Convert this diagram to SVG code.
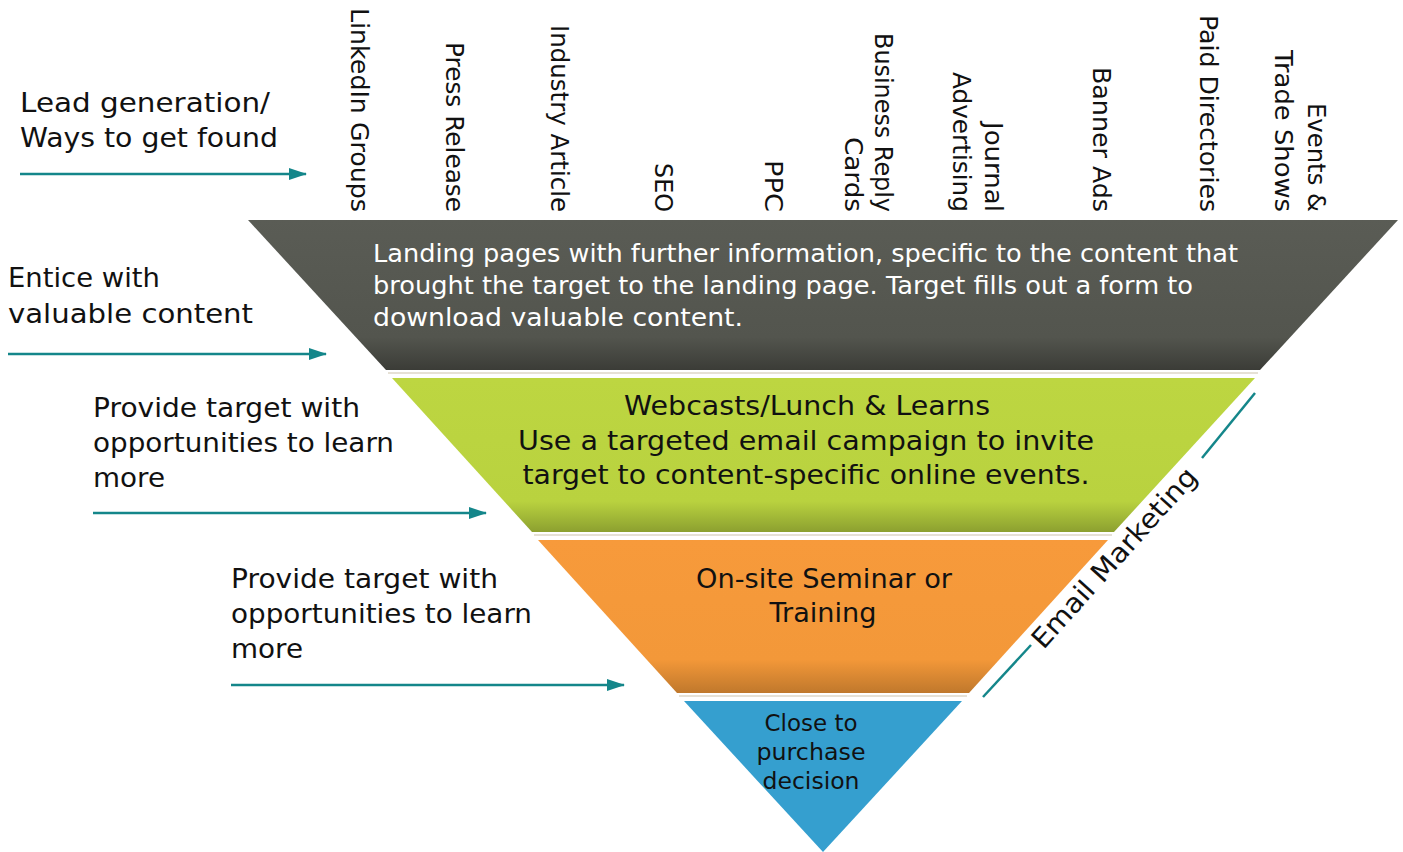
<svg xmlns="http://www.w3.org/2000/svg" width="1403" height="852" viewBox="0 0 1403 852">
  <defs>
    <style>
      text { font-family: "DejaVu Sans", "Liberation Sans", sans-serif; }
      .lbl { font-size: 27px; fill: #111; }
      .ch { font-size: 24px; fill: #111; }
      .band-dark { font-size: 24px; fill: #ffffff; }
      .band-txt { font-size: 27px; fill: #111; text-anchor: middle; }
      .blue-txt { font-size: 23px; fill: #111; text-anchor: middle; }
      .arrow { stroke: #14868a; stroke-width: 2.5; fill: none; marker-end: url(#head); }
      .rule { stroke: #14868a; stroke-width: 2.5; fill: none; }
      .sep { stroke: #e6e1d6; stroke-width: 2; fill: none; }
    </style>
    <marker id="head" viewBox="0 0 18 12" refX="17" refY="6" markerWidth="18" markerHeight="12" markerUnits="userSpaceOnUse" orient="auto">
      <path d="M0,0 L18,6 L0,12 z" fill="#14868a"/>
    </marker>
    <linearGradient id="gDark" x1="0" y1="0" x2="0" y2="1">
      <stop offset="0" stop-color="#5a5c55"/>
      <stop offset="0.78" stop-color="#53554e"/>
      <stop offset="1" stop-color="#3b3c37"/>
    </linearGradient>
    <linearGradient id="gGreen" x1="0" y1="0" x2="0" y2="1">
      <stop offset="0" stop-color="#bdd641"/>
      <stop offset="0.8" stop-color="#b9d23f"/>
      <stop offset="1" stop-color="#8ca030"/>
    </linearGradient>
    <linearGradient id="gOrange" x1="0" y1="0" x2="0" y2="1">
      <stop offset="0" stop-color="#f79a3b"/>
      <stop offset="0.78" stop-color="#f39839"/>
      <stop offset="1" stop-color="#c0782c"/>
    </linearGradient>
  </defs>

  <!-- funnel bands -->
  <g id="band-landing">
    <polygon points="248,220 1398,220 1260,370 386,370" fill="url(#gDark)"/>
    <line class="sep" x1="388" y1="373" x2="1258" y2="373"/>
    <text class="band-dark" x="373" y="262" textLength="865" lengthAdjust="spacingAndGlyphs">Landing pages with further information, specific to the content that</text>
    <text class="band-dark" x="373" y="294" textLength="820" lengthAdjust="spacingAndGlyphs">brought the target to the landing page. Target fills out a form to</text>
    <text class="band-dark" x="373" y="326" textLength="370" lengthAdjust="spacingAndGlyphs">download valuable content.</text>
  </g>

  <g id="band-webcasts">
    <polygon points="392,378 1255,378 1114,532 532,532" fill="url(#gGreen)"/>
    <line class="sep" x1="534" y1="535" x2="1112" y2="535"/>
    <text class="band-txt" x="807" y="415" textLength="366" lengthAdjust="spacingAndGlyphs">Webcasts/Lunch &amp; Learns</text>
    <text class="band-txt" x="806" y="450" textLength="576" lengthAdjust="spacingAndGlyphs">Use a targeted email campaign to invite</text>
    <text class="band-txt" x="806" y="484" textLength="567" lengthAdjust="spacingAndGlyphs">target to content-specific online events.</text>
  </g>

  <g id="band-seminar">
    <polygon points="538,540 1108,540 969,693 677,693" fill="url(#gOrange)"/>
    <line class="sep" x1="679" y1="696" x2="967" y2="696"/>
    <text class="band-txt" x="824" y="588" textLength="256" lengthAdjust="spacingAndGlyphs">On-site Seminar or</text>
    <text class="band-txt" x="823" y="622" textLength="107" lengthAdjust="spacingAndGlyphs">Training</text>
  </g>

  <g id="band-close">
    <polygon points="684,701 962,701 823,852" fill="#359fcf"/>
    <text class="blue-txt" x="811" y="731" textLength="93" lengthAdjust="spacingAndGlyphs">Close to</text>
    <text class="blue-txt" x="811" y="760" textLength="109" lengthAdjust="spacingAndGlyphs">purchase</text>
    <text class="blue-txt" x="811" y="789" textLength="97" lengthAdjust="spacingAndGlyphs">decision</text>
  </g>

  <!-- lead generation channels -->
  <g id="channels" class="ch" text-anchor="end">
    <text transform="translate(351,212) rotate(90)" textLength="204" lengthAdjust="spacingAndGlyphs">LinkedIn Groups</text>
    <text transform="translate(446,212) rotate(90)" textLength="170" lengthAdjust="spacingAndGlyphs">Press Release</text>
    <text transform="translate(551,212) rotate(90)" textLength="187" lengthAdjust="spacingAndGlyphs">Industry Article</text>
    <text transform="translate(655,212) rotate(90)" textLength="49" lengthAdjust="spacingAndGlyphs">SEO</text>
    <text transform="translate(765,212) rotate(90)" textLength="52" lengthAdjust="spacingAndGlyphs">PPC</text>
    <text transform="translate(875,212) rotate(90)" textLength="179" lengthAdjust="spacingAndGlyphs">Business Reply</text>
    <text transform="translate(845,212) rotate(90)" textLength="75" lengthAdjust="spacingAndGlyphs">Cards</text>
    <text transform="translate(985,212) rotate(90)" textLength="90" lengthAdjust="spacingAndGlyphs">Journal</text>
    <text transform="translate(953,212) rotate(90)" textLength="140" lengthAdjust="spacingAndGlyphs">Advertising</text>
    <text transform="translate(1093,212) rotate(90)" textLength="145" lengthAdjust="spacingAndGlyphs">Banner Ads</text>
    <text transform="translate(1200,212) rotate(90)" textLength="197" lengthAdjust="spacingAndGlyphs">Paid Directories</text>
    <text transform="translate(1308,212) rotate(90)" textLength="109" lengthAdjust="spacingAndGlyphs">Events &amp;</text>
    <text transform="translate(1275,212) rotate(90)" textLength="162" lengthAdjust="spacingAndGlyphs">Trade Shows</text>
  </g>

  <!-- stage labels -->
  <g id="label-lead" class="lbl">
    <text x="20" y="112" textLength="250" lengthAdjust="spacingAndGlyphs">Lead generation/</text>
    <text x="20" y="147" textLength="258" lengthAdjust="spacingAndGlyphs">Ways to get found</text>
  </g>
  <g id="label-entice" class="lbl">
    <text x="8" y="287" textLength="152" lengthAdjust="spacingAndGlyphs">Entice with</text>
    <text x="8" y="323" textLength="245" lengthAdjust="spacingAndGlyphs">valuable content</text>
  </g>
  <g id="label-learn-1" class="lbl">
    <text x="93" y="417" textLength="267" lengthAdjust="spacingAndGlyphs">Provide target with</text>
    <text x="93" y="452" textLength="301" lengthAdjust="spacingAndGlyphs">opportunities to learn</text>
    <text x="93" y="487" textLength="72" lengthAdjust="spacingAndGlyphs">more</text>
  </g>
  <g id="label-learn-2" class="lbl">
    <text x="231" y="588" textLength="267" lengthAdjust="spacingAndGlyphs">Provide target with</text>
    <text x="231" y="623" textLength="301" lengthAdjust="spacingAndGlyphs">opportunities to learn</text>
    <text x="231" y="658" textLength="72" lengthAdjust="spacingAndGlyphs">more</text>
  </g>

  <!-- email marketing side rule -->
  <g id="email-marketing">
    <line class="rule" x1="1202" y1="458" x2="1255" y2="393"/>
    <line class="rule" x1="983" y1="697" x2="1031" y2="645"/>
    <text class="lbl" text-anchor="middle" transform="translate(1121,564) rotate(-48)" textLength="232" lengthAdjust="spacingAndGlyphs">Email Marketing</text>
  </g>

  <!-- connectors -->
  <g id="connectors">
    <line class="arrow" x1="20" y1="174" x2="306" y2="174"/>
    <line class="arrow" x1="8" y1="354" x2="326" y2="354"/>
    <line class="arrow" x1="93" y1="513" x2="486" y2="513"/>
    <line class="arrow" x1="231" y1="685" x2="624" y2="685"/>
  </g>
</svg>
